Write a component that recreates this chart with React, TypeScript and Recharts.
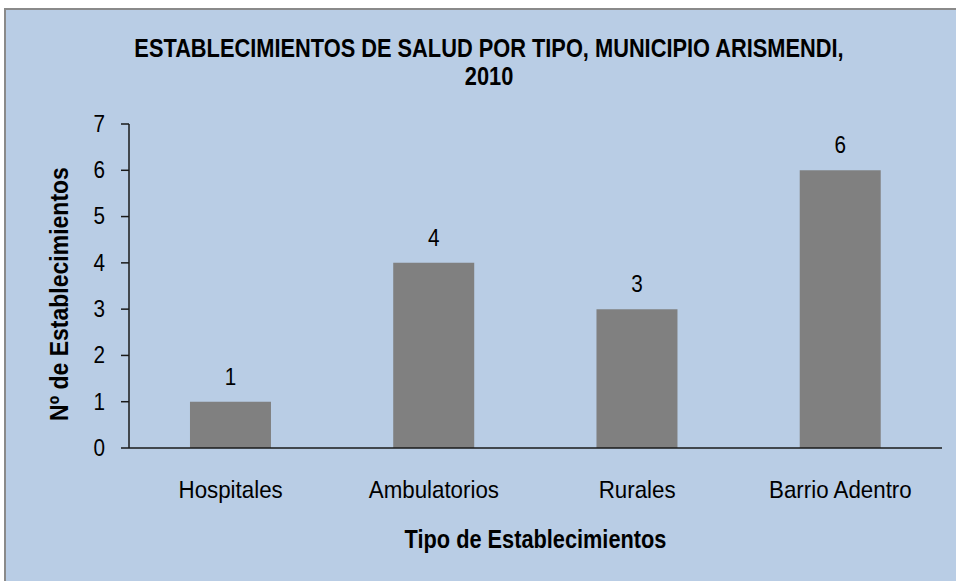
import React from 'react';
import { BarChart, Bar, XAxis, YAxis, LabelList } from 'recharts';

const categories = ['Hospitales', 'Ambulatorios', 'Rurales', 'Barrio Adentro'];
const counts = [1, 4, 3, 6];
const yTicks = [0, 1, 2, 3, 4, 5, 6, 7];
const titleLines = ['ESTABLECIMIENTOS DE SALUD POR TIPO, MUNICIPIO ARISMENDI,', '2010'];
const xTitle = 'Tipo de Establecimientos';
const yTitle = 'Nº de Establecimientos';

const data = categories.map((c, i) => ({ name: c, value: counts[i] }));

const FONT = '"Liberation Sans", Arial, sans-serif';

function XTick(props: any) {
  const { x, y, payload } = props;
  return (
    <text
      transform={`translate(${x},${y}) scale(0.93,1)`}
      textAnchor="middle"
      fontFamily={FONT}
      fontSize={24}
      fill="#000"
    >
      {payload.value}
    </text>
  );
}

function YTick(props: any) {
  const { x, y, payload } = props;
  return (
    <text
      transform={`translate(${x},${y}) scale(0.9,1)`}
      textAnchor="end"
      dominantBaseline="central"
      fontFamily={FONT}
      fontSize={23}
      fill="#000"
    >
      {payload.value}
    </text>
  );
}

function ValueLabel(props: any) {
  const { x, y, width, value } = props;
  const cx = x + width / 2;
  const by = y - 17;
  return (
    <text
      transform={`translate(${cx},${by}) scale(0.9,1)`}
      textAnchor="middle"
      fontFamily={FONT}
      fontSize={23}
      fill="#000"
    >
      {value}
    </text>
  );
}

export default function App() {
  return (
    <div style={{ position: 'fixed', left: 0, top: 0, width: 956, height: 581, background: '#ffffff', overflow: 'hidden' }}>
      <div
        style={{
          position: 'absolute',
          left: 4,
          top: 8,
          width: 970,
          height: 600,
          background: '#B9CDE5',
          borderLeft: '2px solid #8a8a8a',
          borderTop: '2px solid #8a8a8a',
        }}
      />
      <div style={{ position: 'absolute', left: 0, top: 0 }}>
        <BarChart
          width={956}
          height={581}
          data={data}
          margin={{ top: 124, right: 14, bottom: 73, left: 0 }}
          barCategoryGap="30%"
        >
          <XAxis
            dataKey="name"
            axisLine={{ stroke: '#1a1a1a', strokeWidth: 1.5 }}
            tickLine={false}
            tickSize={0}
            tickMargin={50}
            height={60}
            tick={<XTick />}
            label={{
              content: (p: any) => {
                const vb = p.viewBox;
                const cx = vb.x + vb.width / 2;
                const by = vb.y + 100;
                return (
                  <text
                    transform={`translate(${cx},${by}) scale(0.87,1)`}
                    textAnchor="middle"
                    fontFamily={FONT}
                    fontSize={25}
                    fontWeight="bold"
                    fill="#000"
                  >
                    {xTitle}
                  </text>
                );
              },
            }}
          />
          <YAxis
            domain={[0, 7]}
            ticks={yTicks}
            interval={0}
            width={129}
            axisLine={{ stroke: '#1a1a1a', strokeWidth: 1.5 }}
            tickLine={{ stroke: '#1a1a1a', strokeWidth: 1.5 }}
            tickSize={8}
            tickMargin={16}
            tick={<YTick />}
            label={{
              content: (p: any) => {
                const vb = p.viewBox;
                const cx = 59;
                const cy = vb.y + vb.height / 2 + 8;
                return (
                  <text
                    transform={`translate(${cx},${cy}) rotate(-90) scale(0.92,1)`}
                    textAnchor="middle"
                    dominantBaseline="central"
                    fontFamily={FONT}
                    fontSize={25}
                    fontWeight="bold"
                    fill="#000"
                  >
                    {yTitle}
                  </text>
                );
              },
            }}
          />
          <Bar dataKey="value" fill="#808080" isAnimationActive={false}>
            <LabelList dataKey="value" content={<ValueLabel />} />
          </Bar>
        </BarChart>
      </div>
      <svg
        width={956}
        height={100}
        style={{ position: 'absolute', left: 0, top: 0, pointerEvents: 'none' }}
      >
        {titleLines.map((t, i) => (
          <text
            key={t}
            transform={`translate(489,${56.5 + i * 28.5}) scale(0.855,1)`}
            textAnchor="middle"
            fontFamily={FONT}
            fontSize={25.5}
            fontWeight="bold"
            fill="#000"
          >
            {t}
          </text>
        ))}
      </svg>
    </div>
  );
}
